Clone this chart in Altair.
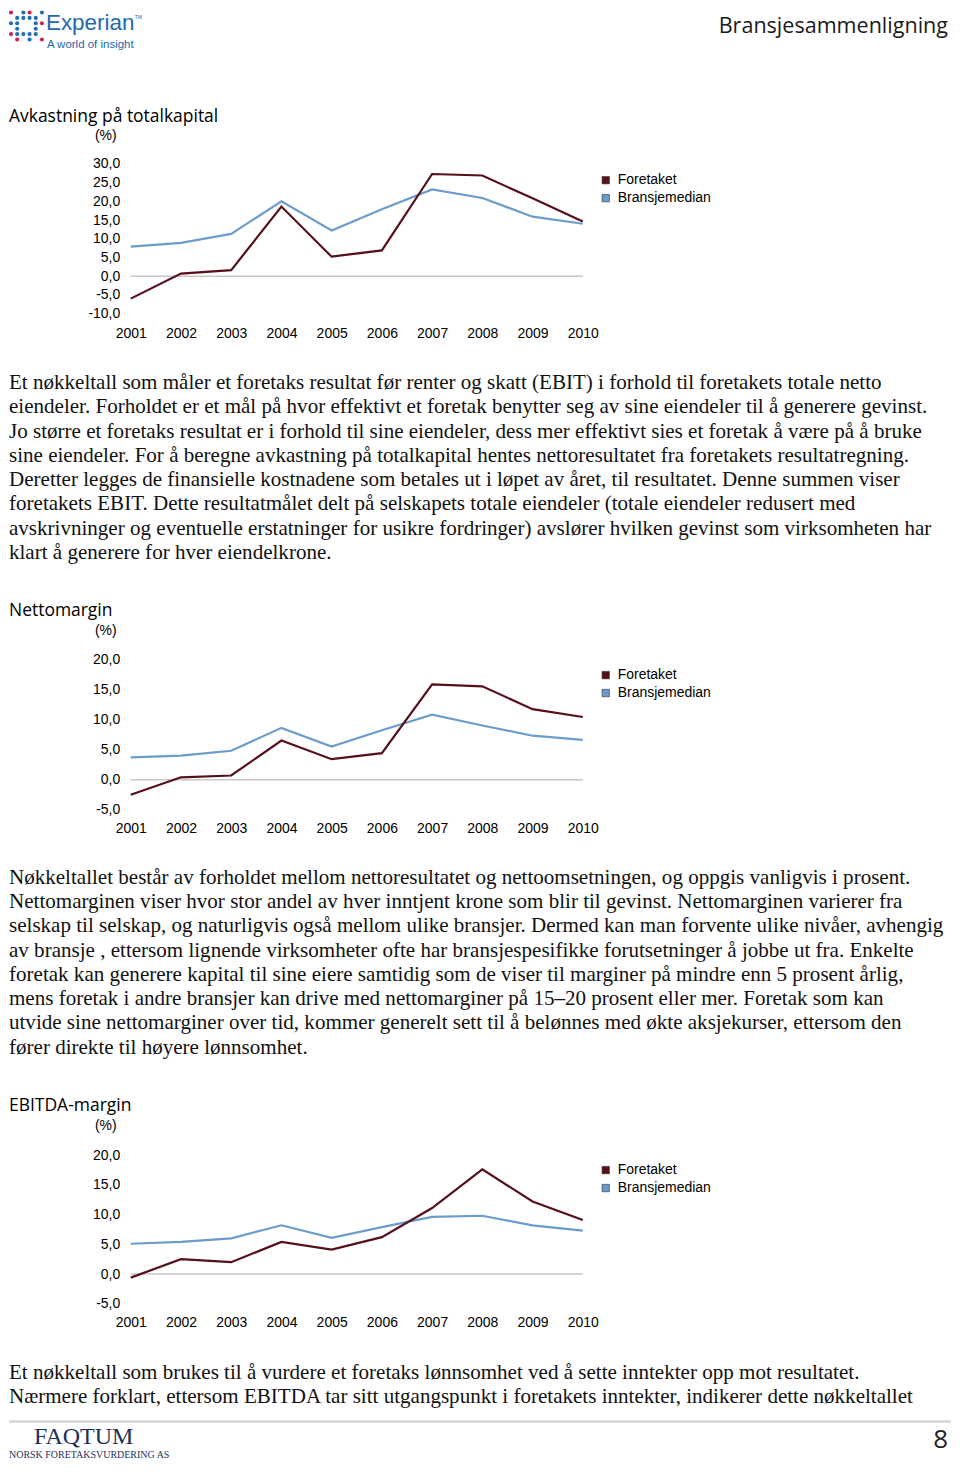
import altair as alt
import pandas as pd

# ---------------- data ----------------
years = ["2001", "2002", "2003", "2004", "2005", "2006", "2007", "2008", "2009", "2010"]
series = ["Foretaket", "Bransjemedian"]
series_colors = ["#55101A", "#6C9CCB"]

roa_foretaket = [-6.0, 0.7, 1.6, 18.6, 5.2, 6.9, 27.3, 26.9, 20.8, 14.6]
roa_bransje = [7.9, 8.9, 11.3, 20.0, 12.2, 17.9, 23.2, 20.9, 15.9, 14.0]
roa_ticks = [-10, -5, 0, 5, 10, 15, 20, 25, 30]

nm_foretaket = [-2.5, 0.4, 0.7, 6.5, 3.4, 4.4, 15.8, 15.5, 11.7, 10.4]
nm_bransje = [3.7, 4.0, 4.8, 8.6, 5.5, 8.2, 10.8, 9.0, 7.3, 6.6]
nm_ticks = [-5, 0, 5, 10, 15, 20]

eb_foretaket = [-0.6, 2.5, 2.0, 5.4, 4.1, 6.2, 11.1, 17.6, 12.2, 9.1]
eb_bransje = [5.1, 5.4, 6.0, 8.2, 6.1, 7.9, 9.6, 9.8, 8.2, 7.3]
eb_ticks = [-5, 0, 5, 10, 15, 20]

titles = ["Avkastning på totalkapital", "Nettomargin", "EBITDA-margin"]
unit_label = "(%)"
header_title = "Bransjesammenligning"
logo_name = "Experian"
logo_tag = "A world of insight"
footer_name = "FAQTUM"
footer_sub = "NORSK FORETAKSVURDERING AS"
page_number = "8"

para1 = [
    "Et nøkkeltall som måler et foretaks resultat før renter og skatt (EBIT) i forhold til foretakets totale netto",
    "eiendeler. Forholdet er et mål på hvor effektivt et foretak benytter seg av sine eiendeler til å generere gevinst.",
    "Jo større et foretaks resultat er i forhold til sine eiendeler, dess mer effektivt sies et foretak å være på å bruke",
    "sine eiendeler. For å beregne avkastning på totalkapital hentes nettoresultatet fra foretakets resultatregning.",
    "Deretter legges de finansielle kostnadene som betales ut i løpet av året, til resultatet. Denne summen viser",
    "foretakets EBIT. Dette resultatmålet delt på selskapets totale eiendeler (totale eiendeler redusert med",
    "avskrivninger og eventuelle erstatninger for usikre fordringer) avslører hvilken gevinst som virksomheten har",
    "klart å generere for hver eiendelkrone.",
]
para2 = [
    "Nøkkeltallet består av forholdet mellom nettoresultatet og nettoomsetningen, og oppgis vanligvis i prosent.",
    "Nettomarginen viser hvor stor andel av hver inntjent krone som blir til gevinst. Nettomarginen varierer fra",
    "selskap til selskap, og naturligvis også mellom ulike bransjer. Dermed kan man forvente ulike nivåer, avhengig",
    "av bransje , ettersom lignende virksomheter ofte har bransjespesifikke forutsetninger å jobbe ut fra. Enkelte",
    "foretak kan generere kapital til sine eiere samtidig som de viser til marginer på mindre enn 5 prosent årlig,",
    "mens foretak i andre bransjer kan drive med nettomarginer på 15–20 prosent eller mer. Foretak som kan",
    "utvide sine nettomarginer over tid, kommer generelt sett til å belønnes med økte aksjekurser, ettersom den",
    "fører direkte til høyere lønnsomhet.",
]
para3 = [
    "Et nøkkeltall som brukes til å vurdere et foretaks lønnsomhet ved å sette inntekter opp mot resultatet.",
    "Nærmere forklart, ettersom EBITDA tar sitt utgangspunkt i foretakets inntekter, indikerer dette nøkkeltallet",
]

# Experian logo dot pattern (b = blue, m = magenta)
logo_rows = ["m.bm.b", ".bbbb.", "bb..bm", ".b..b.", "mbbbb.", ".m.b.m"]

# ---------------- helpers ----------------
W = 944
SANS = "Liberation Sans"
HEAD = "Open Sans"
SERIF = "Liberation Serif"
PARA_SIZE = 21.1
PARA_LH = 24.3
one = pd.DataFrame({"k": [0]})


def txt(text, x, y, size, font=SANS, color="#000000", align="left",
        baseline="alphabetic", lh=None):
    kw = dict(text=text, font=font, fontSize=size, color=color,
              align=align, baseline=baseline)
    if lh is not None:
        kw["lineHeight"] = lh
    return alt.Chart(one).mark_text(**kw).encode(x=alt.value(x), y=alt.value(y))


def long_df(a, b):
    rows = []
    for s, vals in ((series[1], b), (series[0], a)):
        for yr, v in zip(years, vals):
            rows.append({"Year": yr, "Series": s, "Value": v})
    return pd.DataFrame(rows)


def chart_layers(df, ydomain, yrange, ticks, legend_y):
    cscale = alt.Scale(domain=series, range=series_colors)
    ysc = alt.Scale(domain=ydomain, range=yrange, nice=False, zero=False)
    xsc = alt.Scale(domain=years, range=[122, 575], padding=0)
    zero = alt.Chart(pd.DataFrame({"v": [0]})).mark_rule(
        color="#C8C8C8", strokeWidth=1.5
    ).encode(
        y=alt.Y("v:Q", scale=ysc, axis=None),
        x=alt.value(122), x2=alt.value(575),
    )
    lines = alt.Chart(df).mark_line(strokeWidth=2.2).encode(
        x=alt.X("Year:O", scale=xsc, sort=years,
                axis=alt.Axis(title=None, labelAngle=0, domain=False, ticks=False,
                              tickSize=0, labelPadding=6, grid=False)),
        y=alt.Y("Value:Q", scale=ysc,
                axis=alt.Axis(title=None, values=ticks, offset=-122, domain=False,
                              ticks=False, tickSize=0, labelPadding=11, grid=False,
                              labelExpr="replace(replace(format(datum.value, '.1f'), '.', ','), '\u2212', '-')")),
        color=alt.Color("Series:N", scale=cscale, legend=None),
        detail="Series:N",
    )
    ly = alt.Y("Series:N", scale=alt.Scale(domain=series, range=legend_y, padding=0), axis=None)
    ldf = pd.DataFrame({"Series": series})
    leg_sq = alt.Chart(ldf).mark_square(size=55, opacity=1, stroke="#333333",
                                        strokeWidth=0.6).encode(
        x=alt.value(598), y=ly,
        color=alt.Color("Series:N", scale=cscale, legend=None),
    )
    leg_tx = alt.Chart(ldf).mark_text(align="left", baseline="middle", font=SANS,
                                      fontSize=14, color="#000000").encode(
        x=alt.value(610), y=ly, text="Series:N",
    )
    return [zero, lines, leg_sq, leg_tx]


# ---------------- logo dots ----------------
blue_dots, mag_dots = [], []
for r, row in enumerate(logo_rows):
    for c, ch in enumerate(row):
        if ch == "b":
            blue_dots.append({"c": c, "r": r})
        elif ch == "m":
            mag_dots.append({"c": c, "r": r})


def dots(rows, color):
    return alt.Chart(pd.DataFrame(rows)).mark_circle(size=17, opacity=1, color=color).encode(
        x=alt.X("c:Q", scale=alt.Scale(domain=[0, 5], range=[2, 33]), axis=None),
        y=alt.Y("r:Q", scale=alt.Scale(domain=[0, 5], range=[3, 30]), axis=None),
    )


# ---------------- blocks ----------------
b0 = alt.layer(
    dots(blue_dots, "#1F6DB4"),
    dots(mag_dots, "#C7244E"),
    txt(logo_name, 37, 21, 22.5, color="#2468B0"),
    txt("TM", 126, 9, 5, color="#2468B0"),
    txt(logo_tag, 38, 38.7, 11.5, color="#2468B0"),
    txt(header_title, 941, 23.5, 21.6, font=HEAD, color="#1a1a1a", align="right"),
    txt(titles[0], 0, 113, 17.5, font=HEAD),
    txt(unit_label, 97, 127, 14, align="center", baseline="middle"),
    *chart_layers(long_df(roa_foretaket, roa_bransje), [-10, 30], [304.7, 154.7],
                  roa_ticks, [171, 189]),
).resolve_scale(x="independent", y="independent").properties(width=W, height=312)

b1 = alt.layer(
    txt(para1, 0, 68.3, PARA_SIZE, font=SERIF, color="#111111", lh=PARA_LH),
    txt(titles[1], 0, 296, 17.5, font=HEAD),
    txt(unit_label, 97, 311, 14, align="center", baseline="middle"),
    *chart_layers(long_df(nm_foretaket, nm_bransje), [-5, 20], [490, 339],
                  nm_ticks, [355, 373]),
).resolve_scale(x="independent", y="independent").properties(width=W, height=496)

b2 = alt.layer(
    txt(para2, 0, 68.3, PARA_SIZE, font=SERIF, color="#111111", lh=PARA_LH),
    txt(titles[2], 0, 296, 17.5, font=HEAD),
    txt(unit_label, 97, 311, 14, align="center", baseline="middle"),
    *chart_layers(long_df(eb_foretaket, eb_bransje), [-5, 20], [489, 340],
                  eb_ticks, [355, 373]),
).resolve_scale(x="independent", y="independent").properties(width=W, height=495)

b3 = alt.layer(
    txt(para3, 0, 69, PARA_SIZE, font=SERIF, color="#111111", lh=PARA_LH),
    alt.Chart(one).mark_rule(color="#CCCCCC", strokeWidth=2).encode(
        x=alt.value(0), x2=alt.value(944), y=alt.value(112)),
    txt(footer_name, 25, 135, 24, font=SERIF, color="#1F2F5C"),
    txt(footer_sub, 0, 149, 10, font=SERIF, color="#1F2F5C"),
    txt(page_number, 941, 139, 26, font=HEAD, color="#222222", align="right"),
).properties(width=W, height=151)

chart = alt.vconcat(b0, b1, b2, b3, spacing=0, bounds="flush").properties(
    padding=0
).configure_view(stroke=None).configure_axis(
    labelFont=SANS, labelFontSize=14, labelColor="#000000"
)

chart.save("out.html", embed_options={"renderer": "svg", "actions": False})
